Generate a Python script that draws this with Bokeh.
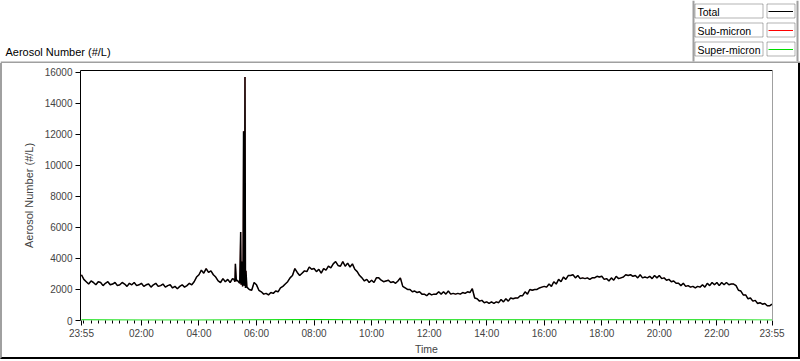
from bokeh.plotting import figure
from bokeh.layouts import column
from bokeh.models import (Range1d, FixedTicker, LinearAxis, BoxAnnotation, Label,
                          Legend, LegendItem, ColumnDataSource)
from bokeh.embed import file_html
from bokeh.resources import INLINE

# ---------------- data ----------------
start_minute = -5          # 23:55 of the previous day, minutes from midnight
step_minutes = 5
total = [
    2950,
    2650, 2500, 2350, 2550, 2450, 2300, 2500, 2450, 2250, 2400, 2500, 2300,
    2350, 2450, 2250, 2300, 2450, 2350, 2200, 2400, 2300, 2450, 2250, 2300,
    2400, 2200, 2300, 2350, 2150, 2300, 2400, 2200, 2250, 2350, 2150, 2250,
    2300, 2100, 2200, 2050, 2200, 2300, 2150, 2250, 2400, 2300, 2500, 2800,
    2950, 3250, 3050, 3350, 3100, 3200, 2950, 2800, 2550, 2450, 2700, 2500,
    2650, 2450, 2700, 2500, 2600, 2400, 2650, 2250, 2150, 2000, 1950, 2450,
    2300, 1950, 1850, 1700, 1750, 1650, 1800, 1750, 1900, 1850, 2100, 2200,
    2350, 2500, 2750, 2900, 3350, 3100, 2900, 3050, 3200, 3150, 3450, 3300,
    3350, 3150, 3300, 3050, 3350, 3250, 3500, 3400, 3650, 3800, 3550, 3500,
    3800, 3500, 3700, 3450, 3650, 3300, 3150, 2900, 2750, 2550, 2650, 2450,
    2600, 2450, 2750, 2750, 2600, 2500, 2550, 2600, 2450, 2500, 2400, 2550,
    2750, 2200, 2100, 2000, 2000, 1850, 1900, 1800, 1850, 1700, 1700, 1600,
    1750, 1650, 1700, 1700, 1850, 1700, 1850, 1700, 1900, 1700, 1750, 1700,
    1750, 1700, 1800, 1750, 1850, 1800, 2050, 1450, 1400, 1250, 1300, 1150,
    1200, 1100, 1200, 1100, 1200, 1150, 1350, 1200, 1400, 1250, 1450, 1400,
    1450, 1450, 1600, 1600, 1850, 1700, 2000, 1950, 2000, 2000, 2100, 2150,
    2200, 2150, 2350, 2200, 2500, 2350, 2650, 2500, 2800, 2650, 2900, 2900,
    2950, 2750, 2900, 2700, 2750, 2700, 2750, 2650, 2750, 2750, 2850, 2800,
    2850, 2650, 2700, 2550, 2750, 2600, 2850, 2700, 2750, 2800, 2950, 2900,
    2950, 2850, 2900, 2750, 2950, 2750, 2800, 2750, 2850, 2700, 2900, 2750,
    2900, 2700, 2750, 2600, 2650, 2500, 2550, 2400, 2400, 2250, 2400, 2200,
    2250, 2150, 2200, 2100, 2200, 2150, 2300, 2150, 2400, 2250, 2450, 2300,
    2450, 2250, 2450, 2300, 2450, 2300, 2350, 2350, 2250, 1950, 1900, 1650,
    1650, 1400, 1450, 1250, 1300, 1100, 1150, 1050, 1100, 950, 950, 1050,
]
# short events around 05:10-05:40 (minute resolution)
spike_minutes = [313, 316, 318, 327, 328, 329, 331, 332, 333, 334, 336, 337, 338]
spike_values = [2650, 3650, 2550, 5700, 2300, 3800, 2200, 3900, 12200, 2300, 15700, 2100, 3200]

super_minutes = [-5, 120, 240, 360, 480, 600, 720, 840, 960, 1080, 1200, 1320, 1435]
super_micron = [40, 30, 30, 35, 50, 45, 40, 35, 40, 45, 40, 35, 30]

tick_minutes = [-5, 120, 240, 360, 480, 600, 720, 840, 960, 1080, 1200, 1320, 1435]
tick_labels = ["23:55", "02:00", "04:00", "06:00", "08:00", "10:00", "12:00",
               "14:00", "16:00", "18:00", "20:00", "22:00", "23:55"]
y_ticks = [0, 2000, 4000, 6000, 8000, 10000, 12000, 14000, 16000]
series_names = ["Total", "Sub-micron", "Super-micron"]
series_colors = ["#000000", "#ff0000", "#00dd00"]

# ---------------- assemble ----------------
minutes = [start_minute + step_minutes * i for i in range(len(total))]
pairs = sorted(zip(minutes + spike_minutes, total + spike_values))
t_all = [a for a, _ in pairs]
v_all = [b for _, b in pairs]
sub_micron = list(v_all)   # the sub-micron trace coincides with the total at this scale

FONT = "Liberation Sans"
GRAY = "#a0a0a0"
NAN = float("nan")

# ---------------- header: caption + plot legend ----------------
HH = 63
hdr = figure(width=800, height=HH, output_backend="svg", toolbar_location=None,
             x_range=Range1d(0, 800), y_range=Range1d(HH, 0),
             x_axis_type=None, y_axis_type=None,
             min_border_left=0, min_border_right=0, min_border_top=0, min_border_bottom=0)
hdr.outline_line_color = None
hdr.background_fill_color = "white"
hdr.border_fill_color = "white"

def hbox(l, r, t, b, **kw):
    hdr.add_layout(BoxAnnotation(left=l, right=r, top=t, bottom=b, level="underlay", **kw))

hbox(0, 800, 61, 63, fill_color=GRAY, fill_alpha=1, line_color=None)
hbox(692, 694, 0, 61, fill_color=GRAY, fill_alpha=1, line_color=None)
hbox(796, 798, 0, 61, fill_color=GRAY, fill_alpha=1, line_color=None)

hdr.add_layout(Label(x=5, y=51, text="Aerosol Number (#/L)", text_font=FONT,
                     text_font_size="11px", text_baseline="middle", text_align="left",
                     text_color="black"))

ROW_H, ROW_GAP, ROW0 = 14, 5, 3.5
swatches = []
for k, (name, col) in enumerate(zip(series_names, series_colors)):
    top = ROW0 + k * (ROW_H + ROW_GAP)
    hbox(694.5, 762.5, top, top + ROW_H, fill_alpha=0, line_color="black", line_width=1)
    hbox(766.5, 794.5, top, top + ROW_H, fill_alpha=0, line_color="black", line_width=1)
    hdr.add_layout(Label(x=697, y=top + ROW_H / 2 + 0.5, text=name, text_font=FONT,
                         text_font_size="10.5px", text_baseline="middle",
                         text_align="left", text_color="black"))
    # legend-only renderer (no visible data) that supplies the swatch style
    swatches.append(hdr.line(x=[NAN], y=[NAN], line_color=col, line_width=1))

leg_h = 3 * ROW_H + 2 * ROW_GAP
legend = Legend(items=[LegendItem(label=" ", renderers=[r]) for r in swatches],
                location=(768, HH - ROW0 - leg_h),
                glyph_width=25, glyph_height=ROW_H, label_height=ROW_H, label_width=0,
                label_standoff=0, spacing=ROW_GAP, padding=0, margin=0,
                label_text_font_size="6px", border_line_color=None,
                background_fill_alpha=0, level="overlay")
hdr.add_layout(legend)

# ---------------- main chart ----------------
W, H = 796, 294
FL, FR, FT, FB = 78, 770, 7, 258   # frame edges on the canvas

p = figure(width=W, height=H, output_backend="svg", toolbar_location=None,
           x_range=Range1d(-7, 1436), y_range=Range1d(0, 16120),
           min_border_left=FL, min_border_right=W - FR,
           min_border_top=FT, min_border_bottom=H - FB,
           x_axis_label="Time", y_axis_label="Aerosol Number (#/L)")
p.outline_line_color = None
p.grid.visible = False
p.background_fill_color = "white"
p.border_fill_color = "white"

xa = p.xaxis[0]
xa.ticker = FixedTicker(ticks=tick_minutes, minor_ticks=list(range(0, 1436, 15)))
xa.major_label_overrides = {t: l for t, l in zip(tick_minutes, tick_labels)}
xa.axis_line_color = None
xa.major_tick_out, xa.major_tick_in = 5, 0
xa.minor_tick_out, xa.minor_tick_in = 3, 0
xa.major_tick_line_color = "black"
xa.minor_tick_line_color = "black"
xa.major_label_text_font = FONT
xa.major_label_text_font_size = "10px"
xa.major_label_standoff = 2
xa.axis_label_text_font = FONT
xa.axis_label_text_font_size = "10.5px"
xa.axis_label_text_font_style = "normal"
xa.axis_label_standoff = 1

ya = p.yaxis[0]
ya.ticker = FixedTicker(ticks=y_ticks)
ya.axis_line_color = "black"
ya.major_tick_out, ya.major_tick_in = 5, 0
ya.minor_tick_line_color = None
ya.major_tick_line_color = "black"
ya.major_label_text_font = FONT
ya.major_label_text_font_size = "10px"
ya.major_label_standoff = 3
ya.axis_label_text_font = FONT
ya.axis_label_text_font_size = "11px"
ya.axis_label_text_font_style = "normal"
ya.axis_label_standoff = 7

top_axis = LinearAxis(ticker=FixedTicker(ticks=[]), axis_line_color="black",
                      major_tick_line_color=None, minor_tick_line_color=None,
                      major_label_text_font_size="0px")
p.add_layout(top_axis, "above")
right_axis = LinearAxis(ticker=FixedTicker(ticks=[]), axis_line_color=GRAY,
                        major_tick_line_color=None, minor_tick_line_color=None,
                        major_label_text_font_size="0px")
p.add_layout(right_axis, "right")

src = ColumnDataSource(dict(t=t_all, total=v_all, sub=sub_micron))
p.line("t", "sub", source=src, line_color=series_colors[1], line_width=0.5)
p.line("t", "total", source=src, line_color=series_colors[0], line_width=1.5)
p.line(super_minutes, super_micron, line_color=series_colors[2], line_width=1.2)

panel = column(p, styles={"border-left": "2px solid " + GRAY,
                          "border-right": "2px solid #000000",
                          "border-bottom": "2px solid #000000"})
page = column(hdr, panel)

open("out.html", "w").write(file_html(page, INLINE))
